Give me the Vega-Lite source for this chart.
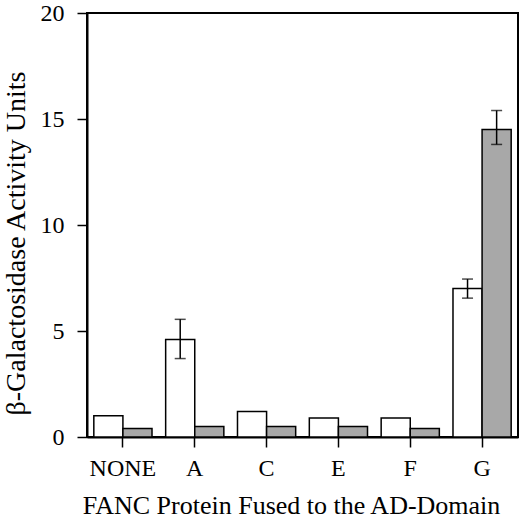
{
  "$schema": "https://vega.github.io/schema/vega-lite/v6.json",
  "width": 431,
  "height": 424,
  "autosize": "none",
  "padding": {"left": 87, "top": 13, "right": 2, "bottom": 93},
  "background": "white",
  "config": {
    "view": {"stroke": "black", "strokeWidth": 2},
    "font": "Liberation Serif",
    "axis": {
      "labelFont": "Liberation Serif",
      "titleFont": "Liberation Serif",
      "labelFontSize": 24,
      "titleFontWeight": "normal",
      "labelColor": "black",
      "titleColor": "black",
      "domainColor": "black",
      "domainWidth": 2,
      "tickColor": "black",
      "tickWidth": 1.5,
      "tickSize": 10,
      "grid": false
    }
  },
  "data": {
    "values": [
      {"protein": "NONE", "group": "open", "value": 1.0},
      {"protein": "NONE", "group": "filled", "value": 0.4},
      {"protein": "A", "group": "open", "value": 4.6, "lo": 3.7, "hi": 5.55},
      {"protein": "A", "group": "filled", "value": 0.5},
      {"protein": "C", "group": "open", "value": 1.2},
      {"protein": "C", "group": "filled", "value": 0.5},
      {"protein": "E", "group": "open", "value": 0.9},
      {"protein": "E", "group": "filled", "value": 0.5},
      {"protein": "F", "group": "open", "value": 0.9},
      {"protein": "F", "group": "filled", "value": 0.4},
      {"protein": "G", "group": "open", "value": 7.0, "lo": 6.55, "hi": 7.45},
      {"protein": "G", "group": "filled", "value": 14.5, "lo": 13.8, "hi": 15.4}
    ]
  },
  "encoding": {
    "x": {
      "field": "protein",
      "type": "nominal",
      "sort": ["NONE", "A", "C", "E", "F", "G"],
      "scale": {"paddingInner": 0.19, "paddingOuter": 0.095},
      "axis": {
        "labelAngle": 0,
        "labelPadding": 9,
        "titleFontSize": 26,
        "titleBaseline": "alphabetic",
        "titleAlign": "center",
        "titleX": 204,
        "titleY": 76
      },
      "title": "FANC Protein Fused to the AD-Domain"
    },
    "xOffset": {"field": "group", "type": "nominal", "sort": ["open", "filled"], "scale": {"paddingInner": 0, "paddingOuter": 0}}
  },
  "layer": [
    {
      "mark": {"type": "bar", "stroke": "black", "strokeWidth": 1.5},
      "encoding": {
        "y": {
          "field": "value",
          "type": "quantitative",
          "scale": {"domain": [0, 20], "nice": false},
          "axis": {
            "values": [0, 5, 10, 15, 20],
            "labelPadding": 13,
            "titleFontSize": 28,
            "titleAngle": 270,
            "titleBaseline": "alphabetic",
            "titleAlign": "center",
            "titleX": -63,
            "titleY": 230
          },
          "title": "β-Galactosidase Activity Units"
        },
        "fill": {
          "field": "group",
          "type": "nominal",
          "scale": {"domain": ["open", "filled"], "range": ["white", "#a8a8a8"]},
          "legend": null
        }
      }
    },
    {
      "transform": [{"filter": "datum.hi != null"}],
      "mark": {"type": "rule", "color": "black", "strokeWidth": 1.5},
      "encoding": {
        "y": {"field": "lo", "type": "quantitative"},
        "y2": {"field": "hi"}
      }
    },
    {
      "transform": [{"filter": "datum.hi != null"}],
      "mark": {"type": "tick", "color": "black", "orient": "horizontal", "size": 11, "thickness": 1.5},
      "encoding": {"y": {"field": "hi", "type": "quantitative"}}
    },
    {
      "transform": [{"filter": "datum.lo != null"}],
      "mark": {"type": "tick", "color": "black", "orient": "horizontal", "size": 11, "thickness": 1.5},
      "encoding": {"y": {"field": "lo", "type": "quantitative"}}
    }
  ]
}
